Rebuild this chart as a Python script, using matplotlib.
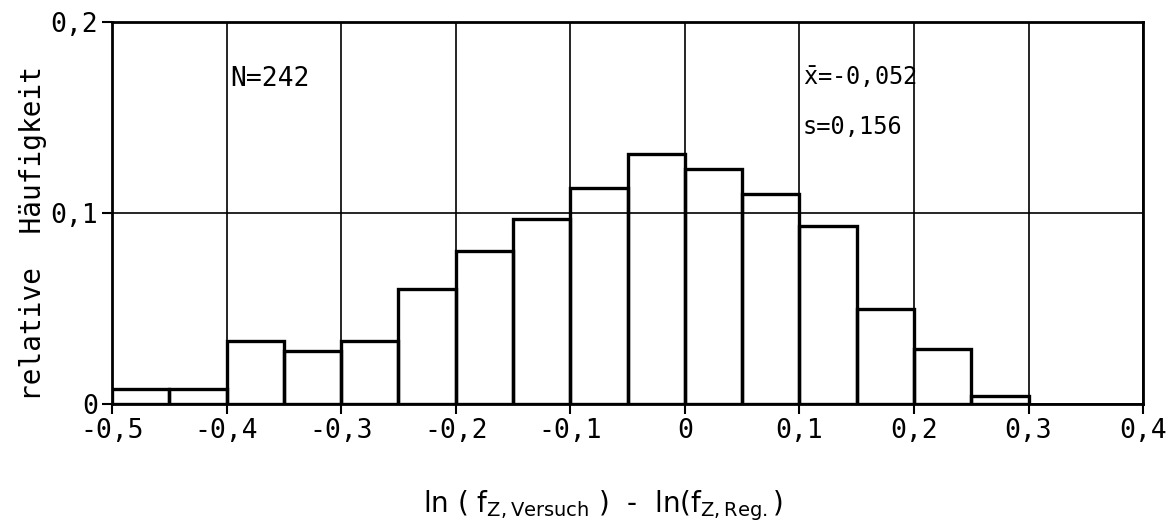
import matplotlib.pyplot as plt
import numpy as np

# histogram classes (left edges) and relative frequencies
edges = [-0.50, -0.45, -0.40, -0.35, -0.30, -0.25, -0.20, -0.15,
         -0.10, -0.05, 0.00, 0.05, 0.10, 0.15, 0.20, 0.25]
freq = [0.008, 0.008, 0.033, 0.028, 0.033, 0.060, 0.080, 0.097,
        0.113, 0.131, 0.123, 0.110, 0.093, 0.050, 0.029, 0.004]

xticks = [-0.5, -0.4, -0.3, -0.2, -0.1, 0.0, 0.1, 0.2, 0.3, 0.4]
xlabels = ['-0,5', '-0,4', '-0,3', '-0,2', '-0,1', '0', '0,1', '0,2', '0,3', '0,4']
yticks = [0.0, 0.1, 0.2]
ylabels = ['0', '0,1', '0,2']

plt.rcParams['font.family'] = ['DejaVu Sans Mono']

fig = plt.figure(figsize=(11.73, 5.3), dpi=100)
ax = fig.add_axes([0.0955, 0.2377, 0.879, 0.7208])

ax.bar(edges, freq, width=0.05, align='edge', fill=False,
       edgecolor='black', linewidth=2.4, zorder=3)

ax.set_xlim(-0.5, 0.4)
ax.set_ylim(0, 0.2)
ax.set_xticks(xticks)
ax.set_xticklabels(xlabels, fontsize=19)
ax.set_yticks(yticks)
ax.set_yticklabels(ylabels, fontsize=19)
ax.tick_params(direction='out', length=7, width=1.5, pad=3)

ax.grid(True, color='black', linewidth=1.2, zorder=1)
for sp in ax.spines.values():
    sp.set_linewidth(2.0)

ax.text(-0.397, 0.170, 'N=242', fontsize=19, va='center', ha='left')
ax.text(0.103, 0.171, r'$\bar{\mathregular{x}}$=-0,052', fontsize=17, va='center', ha='left')
ax.text(0.103, 0.145, 's=0,156', fontsize=17, va='center', ha='left')

fig.text(33 / 1173, 0.560, 'relative  Häufigkeit', fontsize=20,
         rotation=90, ha='center', va='center')
fig.text(423 / 1173, 18 / 530,
         r'ln ( f$_{\mathregular{Z, Versuch}}$ )  -  ln(f$_{\mathregular{Z,Reg.}}$)',
         fontsize=20, ha='left', va='baseline', family='DejaVu Sans')

fig.savefig('out.png', dpi=100)
